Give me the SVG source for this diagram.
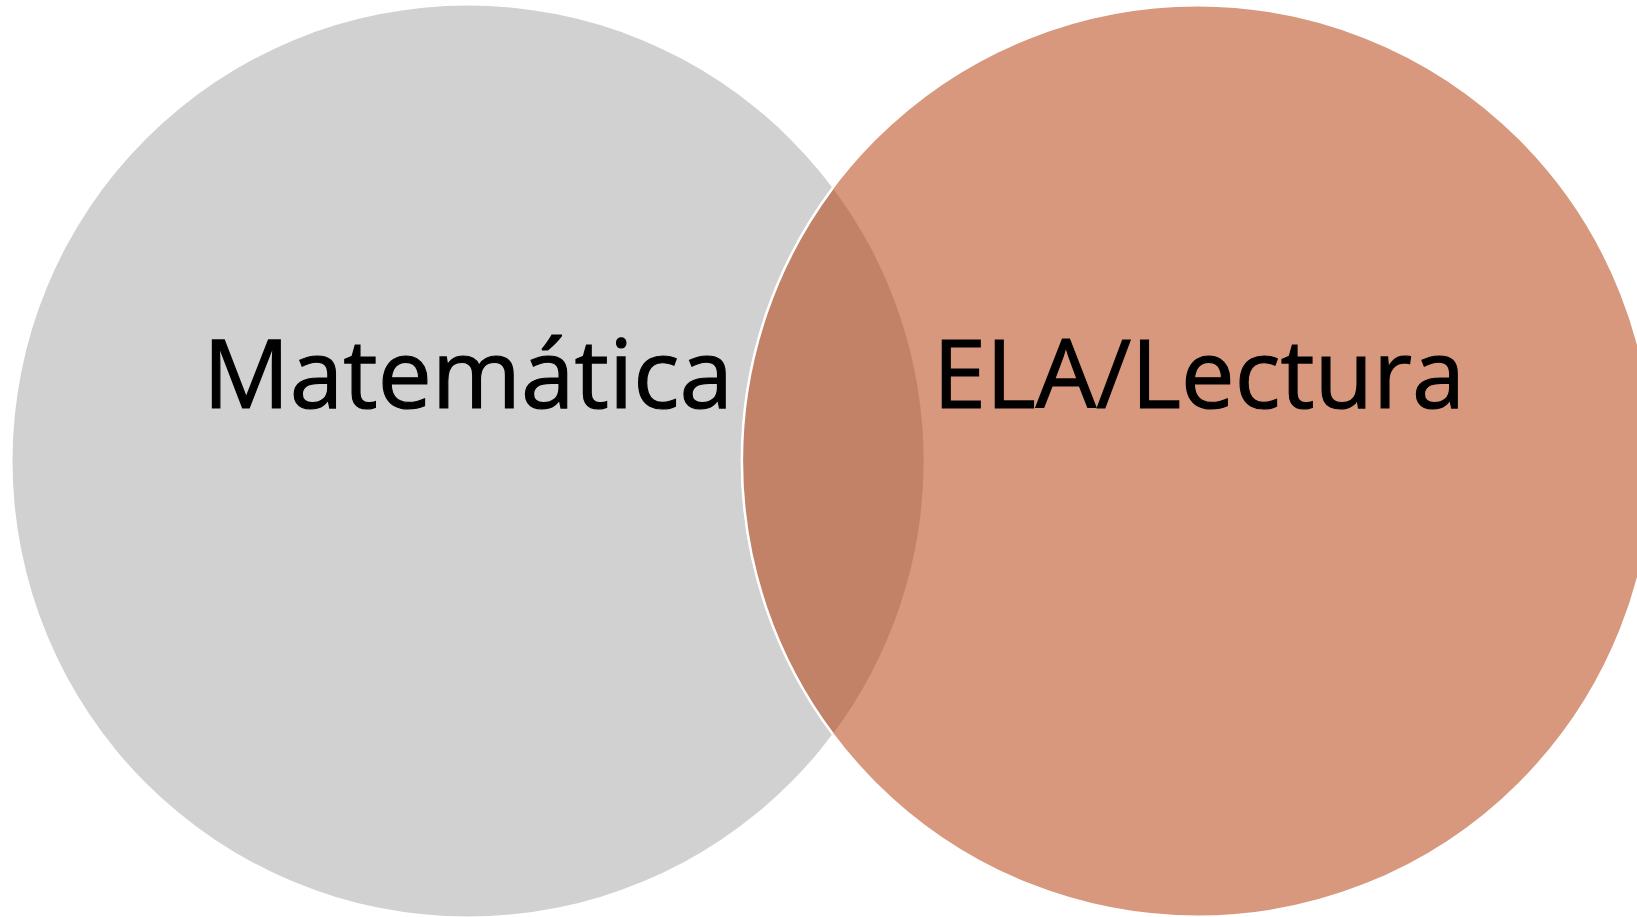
<svg xmlns="http://www.w3.org/2000/svg" width="1637" height="917" viewBox="0 0 1637 917">
  <style>
    .lbl { font-family: "Open Sans", "Noto Sans", "Liberation Sans", sans-serif; font-size: 96px; font-weight: 500; fill: #000000; stroke: #000000; stroke-width: 1.2px; }
  </style>
  <rect x="0" y="0" width="1637" height="917" fill="#FFFFFF"/>
  <g id="matematica">
    <circle cx="468" cy="461" r="455.5" fill="#D1D1D1"/>
  </g>
  <g id="ela-lectura">
    <circle cx="1197.5" cy="461" r="455.5" fill="#D8987D" stroke="#FFFFFF" stroke-width="2"/>
  </g>
  <g id="overlap">
    <path d="M 832.75 188 A 455.5 455.5 0 0 1 832.75 734 A 455.5 455.5 0 0 1 832.75 188 Z" fill="#C18268"/>
    <path d="M 832.75 188 A 455.5 455.5 0 0 0 832.75 734" fill="none" stroke="#FFFFFF" stroke-width="2.5"/>
  </g>
  <g id="labels">
    <text class="lbl" x="203" y="408" textLength="530" lengthAdjust="spacingAndGlyphs">Matemática</text>
    <text class="lbl" x="933" y="408" textLength="532" lengthAdjust="spacingAndGlyphs">ELA/Lectura</text>
  </g>
</svg>
